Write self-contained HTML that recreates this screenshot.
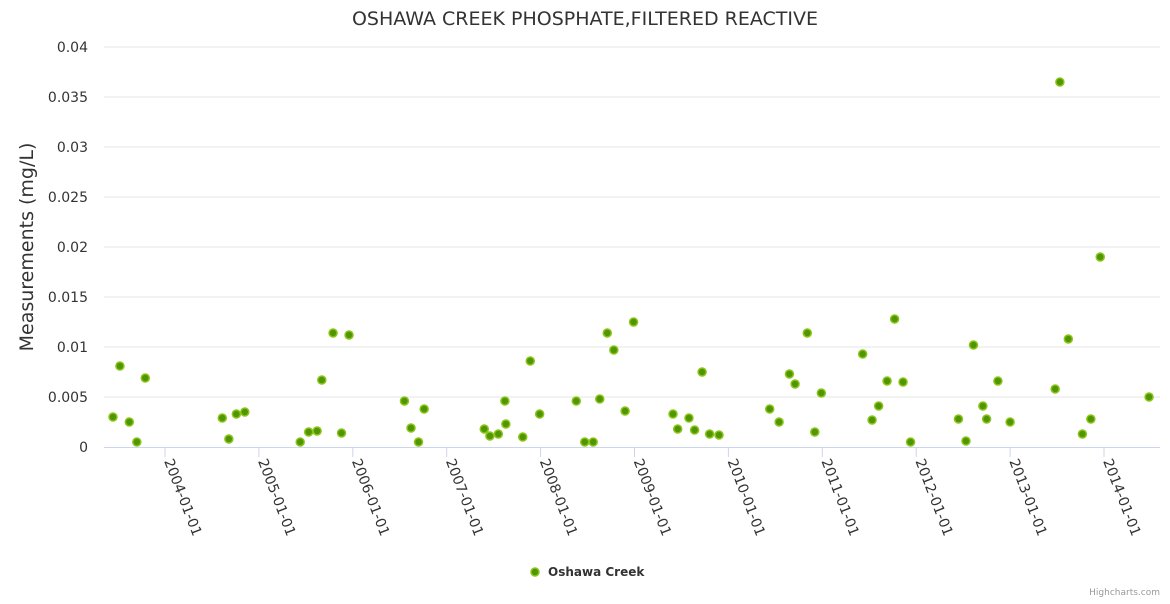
<!DOCTYPE html>
<html><head><meta charset="utf-8"><style>
body{margin:0;background:#fff;font-family:"DejaVu Sans",sans-serif;}
svg text{font-family:"DejaVu Sans","Liberation Sans",sans-serif;}
</style></head><body>
<svg id="chart" width="1170" height="600" xmlns="http://www.w3.org/2000/svg">
<text x="585" y="25" text-anchor="middle" font-size="19" fill="#333">OSHAWA CREEK PHOSPHATE,FILTERED REACTIVE</text>
<text transform="translate(33,247) rotate(-90)" text-anchor="middle" font-size="19" fill="#333">Measurements (mg/L)</text>
<g id="grid"></g>
<g id="yticks"></g>
<g id="xticks"></g>
<g id="points"></g>
<g>
<circle cx="535" cy="572" r="4" fill="#4f9600" stroke="#8cc41a" stroke-width="1.5"/>
<text x="548" y="576" font-size="12" font-weight="bold" fill="#333">Oshawa Creek</text>
</g>
<text x="1160" y="595" text-anchor="end" font-size="9" fill="#999">Highcharts.com</text>
</svg>
<script>
const yTicks=[0,0.005,0.01,0.015,0.02,0.025,0.03,0.035,0.04];
const yTickLabels=["0","0.005","0.01","0.015","0.02","0.025","0.03","0.035","0.04"];
const xTickYears=[2004,2005,2006,2007,2008,2009,2010,2011,2012,2013,2014];
const xTickLabels=["2004-01-01","2005-01-01","2006-01-01","2007-01-01","2008-01-01","2009-01-01","2010-01-01","2011-01-01","2012-01-01","2013-01-01","2014-01-01"];
const dates=[2003.446,2003.52,2003.62,2003.70,2003.79,2004.61,2004.68,2004.76,2004.85,2005.44,2005.53,2005.62,2005.67,2005.79,2005.88,2005.96,2006.55,2006.62,2006.70,2006.76,2007.40,2007.46,2007.55,2007.62,2007.63,2007.81,2007.89,2007.99,2008.38,2008.47,2008.56,2008.63,2008.71,2008.78,2008.90,2008.99,2009.41,2009.46,2009.58,2009.64,2009.72,2009.80,2009.90,2010.44,2010.54,2010.65,2010.71,2010.84,2010.92,2010.99,2011.43,2011.53,2011.60,2011.69,2011.77,2011.86,2011.94,2012.45,2012.53,2012.61,2012.71,2012.75,2012.87,2013.00,2013.48,2013.53,2013.62,2013.77,2013.86,2013.96,2014.48];
const values=[0.003,0.0081,0.0025,0.0005,0.0069,0.0029,0.0008,0.0033,0.0035,0.0005,0.0015,0.0016,0.0067,0.0114,0.0014,0.0112,0.0046,0.0019,0.0005,0.0038,0.0018,0.0011,0.0013,0.0046,0.0023,0.001,0.0086,0.0033,0.0046,0.0005,0.0005,0.0048,0.0114,0.0097,0.0036,0.0125,0.0033,0.0018,0.0029,0.0017,0.0075,0.0013,0.0012,0.0038,0.0025,0.0073,0.0063,0.0114,0.0015,0.0054,0.0093,0.0027,0.0041,0.0066,0.0128,0.0065,0.0005,0.0028,0.0006,0.0102,0.0041,0.0028,0.0066,0.0025,0.0058,0.0365,0.0108,0.0013,0.0028,0.019,0.005];
const NS="http://www.w3.org/2000/svg";
const X0=104,X1=1160,Y0=447,Y1=47;
function yS(v){return Y0+(Y1-Y0)*v/0.04;}
function xS(t){return 165+(t-2004)*93.9;}
function mk(tag,attrs,parent){const e=document.createElementNS(NS,tag);for(const k in attrs)e.setAttribute(k,attrs[k]);parent.appendChild(e);return e;}
const grid=document.getElementById('grid'),yt=document.getElementById('yticks'),xt=document.getElementById('xticks'),pts=document.getElementById('points');
yTicks.forEach((v,i)=>{
 const y=yS(v);
 if(i>0){const l=mk('line',{x1:X0,x2:X1,y1:y,y2:y,stroke:'#e6e6e6','stroke-width':1},grid);
 
 }
 const t=mk('text',{x:88,y:y+5,'text-anchor':'end','font-size':14,fill:'#333'},yt);t.textContent=yTickLabels[i];
 
 
});
const ax=mk('line',{x1:X0,x2:X1,y1:Y0+0.5,y2:Y0+0.5,stroke:'#ccd6eb','stroke-width':1},xt);


xTickYears.forEach((yr,i)=>{
 const x=xS(yr);
 const tk=mk('line',{x1:x,x2:x,y1:Y0,y2:Y0+10,stroke:'#ccd6eb','stroke-width':1},xt);
 
 
 const t=mk('text',{transform:`translate(${x-1},${Y0+14}) rotate(69)`,'font-size':14,fill:'#333'},xt);
 t.textContent=xTickLabels[i];
 
 
});
dates.forEach((d,i)=>{
 const c=mk('circle',{cx:xS(d),cy:yS(values[i]),r:4,fill:'#4f9600',stroke:'#8cc41a','stroke-width':1.5},pts);
 
 
});
</script>
</body></html>
